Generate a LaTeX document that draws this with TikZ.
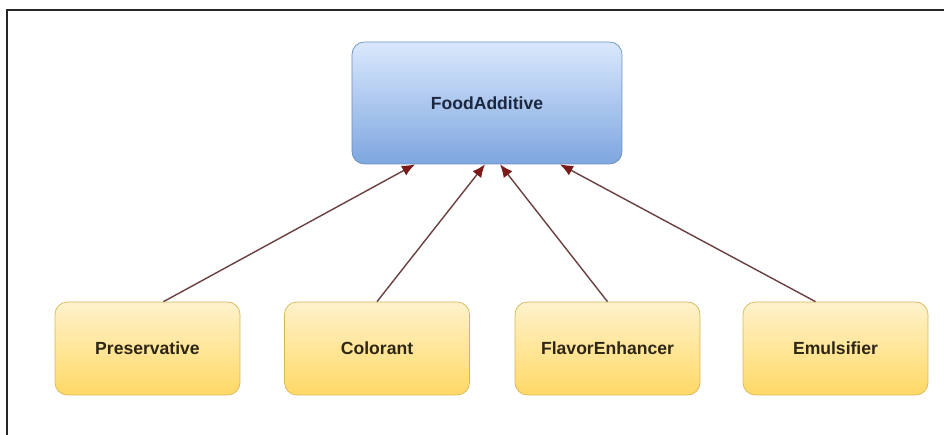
\documentclass[tikz,border=0pt]{standalone}
\usepackage{fontspec}
\setsansfont{Liberation Sans}
\usetikzlibrary{arrows.meta,positioning}

\definecolor{blueTop}{HTML}{DAE8FC}
\definecolor{blueBot}{HTML}{7EA6E0}
\definecolor{blueLine}{HTML}{6C8EBF}
\definecolor{yellowTop}{HTML}{FFF2CC}
\definecolor{yellowBot}{HTML}{FFD966}
\definecolor{yellowLine}{HTML}{D6B656}
\definecolor{arrowRed}{HTML}{7A1A1A}
\definecolor{lineBrown}{HTML}{6A4040}
\definecolor{navyText}{HTML}{1C2740}
\definecolor{brownText}{HTML}{2E2614}

\begin{document}
\begin{tikzpicture}[
		x=0.02cm, y=-0.02cm,
		parentbox/.style={rectangle, rounded corners=7pt, draw=blueLine, top color=blueTop, bottom color=blueBot, minimum width=5.4cm, minimum height=2.44cm, font=\sffamily\bfseries\fontsize{10}{12}\selectfont, text=navyText},
		childbox/.style={rectangle, rounded corners=7pt, draw=yellowLine, top color=yellowTop, bottom color=yellowBot, minimum width=3.7cm, minimum height=1.86cm, font=\sffamily\bfseries\fontsize{10}{12}\selectfont, text=brownText},
		inherit/.style={draw=lineBrown, line width=0.8pt, -{Latex[length=2.6mm, width=2.2mm, fill=arrowRed, color=arrowRed]}},
		frame/.style={line width=1.2pt, black!85}
		]
		\useasboundingbox (0,0) rectangle (944,435);

		% Outer frame
		\draw[frame] (7,435) -- (7,10) -- (944,10);

		% Parent class
		\node[parentbox] (additive) at (487,103) {FoodAdditive};

		% Subclasses
		\node[childbox] (preservative) at (147.5,348.5) {Preservative};
		\node[childbox] (colorant) at (377,348.5) {Colorant};
		\node[childbox] (flavor) at (607.5,348.5) {FlavorEnhancer};
		\node[childbox] (emulsifier) at (835.5,348.5) {Emulsifier};

		% Generalisation arrows
		\draw[inherit] ([xshift=0.32cm]preservative.north) -- ([xshift=-1.44cm]additive.south);
		\draw[inherit] (colorant.north) -- ([xshift=-0.04cm]additive.south);
		\draw[inherit] (flavor.north) -- ([xshift=0.26cm]additive.south);
		\draw[inherit] ([xshift=-0.4cm]emulsifier.north) -- ([xshift=1.46cm]additive.south);

	\end{tikzpicture}
\end{document}
